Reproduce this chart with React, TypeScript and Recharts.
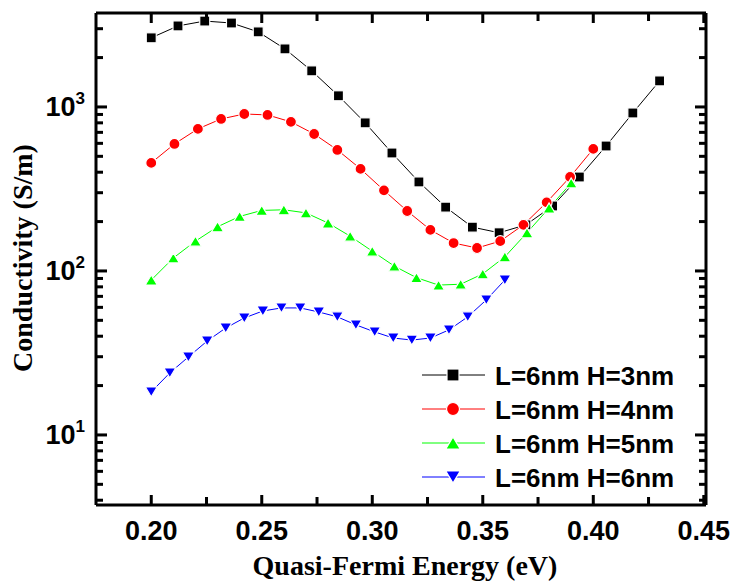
import React from 'react';
import { LineChart, Line, XAxis, YAxis, Customized } from 'recharts';

// Quasi-Fermi energy (eV) and conductivity (S/m)
const energyH3 = [0.2, 0.2121, 0.2242, 0.2363, 0.2484, 0.2605, 0.2726, 0.2847, 0.2968, 0.3089, 0.3211, 0.3332, 0.3453, 0.3574, 0.3695, 0.3816, 0.3937, 0.4058, 0.4179, 0.43];
const sigmaH3 = [2640, 3120, 3340, 3250, 2870, 2260, 1660, 1170, 800, 524, 349, 245, 185, 171, 191, 249, 374, 578, 919, 1442];

const energyH4 = [0.2, 0.2105, 0.2211, 0.2316, 0.2421, 0.2526, 0.2632, 0.2737, 0.2842, 0.2947, 0.3053, 0.3158, 0.3263, 0.3368, 0.3474, 0.3579, 0.3684, 0.3789, 0.3895, 0.4];
const sigmaH4 = [456, 595, 735, 845, 906, 894, 811, 684, 547, 419, 310, 232, 178, 148, 138, 152, 191, 262, 374, 555];

const energyH5 = [0.2, 0.21, 0.22, 0.23, 0.24, 0.25, 0.26, 0.27, 0.28, 0.29, 0.3, 0.31, 0.32, 0.33, 0.34, 0.35, 0.36, 0.37, 0.38, 0.39];
const sigmaH5 = [88, 120, 152, 186, 215, 234, 236, 226, 196, 163, 132, 107, 91, 82, 83, 96, 122, 171, 242, 344];

const energyH6 = [0.2, 0.2084, 0.2168, 0.2253, 0.2337, 0.2421, 0.2505, 0.2589, 0.2674, 0.2758, 0.2842, 0.2926, 0.3011, 0.3095, 0.3179, 0.3263, 0.3347, 0.3432, 0.3516, 0.36];
const sigmaH6 = [18.3, 23.9, 29.9, 37.4, 44.9, 51.7, 57.0, 59.5, 59.5, 56.2, 52.5, 46.9, 42.5, 39.0, 37.9, 39.0, 43.7, 52.5, 66.6, 88.1];

const seriesNames = ['L=6nm H=3nm', 'L=6nm H=4nm', 'L=6nm H=5nm', 'L=6nm H=6nm'];

const xMajorTicks = [0.2, 0.25, 0.3, 0.35, 0.4, 0.45];
const xMinorTicks = [0.225, 0.275, 0.325, 0.375, 0.425];
const yMajorTicks = [10, 100, 1000];
const yMinorTicks = [4, 5, 6, 7, 8, 9, 20, 30, 40, 50, 60, 70, 80, 90, 200, 300, 400, 500, 600, 700, 800, 900, 2000, 3000];

const xTicks = [...xMajorTicks, ...xMinorTicks].sort((a, b) => a - b);
const yTicks = [...yMajorTicks, ...yMinorTicks].sort((a, b) => a - b);

const toRows = (xs: number[], ys: number[]) => xs.map((x, i) => ({ x, y: ys[i] }));

type Shape = 'square' | 'circle' | 'up' | 'down';

const series: { name: string; color: string; shape: Shape; rows: { x: number; y: number }[] }[] = [
  { name: seriesNames[0], color: '#000000', shape: 'square', rows: toRows(energyH3, sigmaH3) },
  { name: seriesNames[1], color: '#ff0000', shape: 'circle', rows: toRows(energyH4, sigmaH4) },
  { name: seriesNames[2], color: '#00ff00', shape: 'up', rows: toRows(energyH5, sigmaH5) },
  { name: seriesNames[3], color: '#0000ff', shape: 'down', rows: toRows(energyH6, sigmaH6) },
];

const SANS = '"Liberation Sans", Arial, Helvetica, sans-serif';
const SERIF = '"Liberation Serif", "Times New Roman", serif';
const TICK = '#000000';

const Marker = ({ shape, cx, cy, color, size, outline = true }: any) => {
  const s = size;
  const stroke = outline ? '#ffffff' : 'none';
  if (shape === 'square') {
    return <rect x={cx - s / 2} y={cy - s / 2} width={s} height={s} fill={color} stroke={stroke} strokeWidth={1.2} />;
  }
  if (shape === 'circle') {
    return <circle cx={cx} cy={cy} r={s / 2 + 0.5} fill={color} stroke={stroke} strokeWidth={1.2} />;
  }
  const w = s * 1.2;
  const h = s;
  const pts =
    shape === 'up'
      ? `${cx},${cy - h / 2} ${cx + w / 2},${cy + h / 2} ${cx - w / 2},${cy + h / 2}`
      : `${cx - w / 2},${cy - h / 2} ${cx + w / 2},${cy - h / 2} ${cx},${cy + h / 2}`;
  return <polygon points={pts} fill={color} stroke={stroke} strokeWidth={1.2} />;
};

const makeDot = (shape: Shape, color: string) => (props: any) => {
  const { cx, cy, index } = props;
  if (cx == null || cy == null) return <g key={`e-${shape}-${index}`} />;
  return (
    <g key={`${shape}-${index}`}>
      <Marker shape={shape} cx={cx} cy={cy} color={color} size={10} />
    </g>
  );
};

const isMajor = (v: number, list: number[]) => list.some((m) => Math.abs(m - v) < 1e-9);

// ticks point inward, like the original plot
const BottomTick = (props: any) => {
  const { x, y, payload } = props;
  const major = isMajor(payload.value, xMajorTicks);
  return (
    <g>
      <rect x={x - 1.5} y={y - (major ? 10 : 8)} width={3} height={major ? 10 : 8} fill={TICK} />
      {major && (
        <text x={x} y={y + 35} textAnchor="middle" fontFamily={SANS} fontWeight="bold" fontSize={27} fill="#000">
          {payload.value.toFixed(2)}
        </text>
      )}
    </g>
  );
};

const TopTick = (props: any) => {
  const { x, y, payload } = props;
  const major = isMajor(payload.value, xMajorTicks);
  return <rect x={x - 1.5} y={y} width={3} height={major ? 10 : 8} fill={TICK} />;
};

const LeftTick = (props: any) => {
  const { x, y, payload } = props;
  const major = isMajor(payload.value, yMajorTicks);
  const exp = Math.round(Math.log10(payload.value));
  return (
    <g>
      <rect x={x} y={y - 1.5} width={major ? 11 : 7} height={3} fill={TICK} />
      {major && (
        <text x={x - 11} y={y + 9.5} textAnchor="end" fontFamily={SANS} fontWeight="bold" fontSize={27} fill="#000">
          <tspan>10</tspan>
          <tspan dy={-12} fontSize={17}>{exp}</tspan>
        </text>
      )}
    </g>
  );
};

const RightTick = (props: any) => {
  const { x, y, payload } = props;
  const major = isMajor(payload.value, yMajorTicks);
  const len = major ? 11 : 7;
  return <rect x={x - len} y={y - 1.5} width={len} height={3} fill={TICK} />;
};

const LegendBox = () => {
  const left = 410;
  const top = 367;
  const rowGap = 34;
  return (
    <g>
      {series.map((s, i) => {
        const y = top + i * rowGap;
        return (
          <g key={s.name}>
            <line x1={left + 4} y1={y} x2={left + 67} y2={y} stroke={s.color} strokeWidth={1} />
            <Marker shape={s.shape} cx={left + 35} cy={y} color={s.color} size={12} />
            <text x={left + 77} y={y + 9.5} fontFamily={SANS} fontWeight="bold" fontSize={26} fill="#000">
              {s.name}
            </text>
          </g>
        );
      })}
    </g>
  );
};

const frameLine = { stroke: '#000', strokeWidth: 3 };

export default function App() {
  return (
    <LineChart width={731} height={574} margin={{ top: 0, right: 0, bottom: 0, left: 0 }}>
      <XAxis
        xAxisId="bottom"
        dataKey="x"
        type="number"
        domain={[0.175, 0.451]}
        allowDataOverflow
        ticks={xTicks}
        interval={0}
        tickSize={0}
        tickMargin={0}
        tickLine={false}
        axisLine={frameLine}
        tick={(p: any) => <BottomTick {...p} />}
        height={77}
        label={{
          content: ({ viewBox }: any) => (
            <text
              x={viewBox.x + viewBox.width / 2 + 4}
              y={viewBox.y + 70}
              textAnchor="middle"
              fontFamily={SERIF}
              fontWeight="bold"
              fontSize={28}
              fill="#000"
            >
              Quasi-Fermi Energy (eV)
            </text>
          ),
        }}
      />
      <XAxis
        xAxisId="top"
        orientation="top"
        dataKey="x"
        type="number"
        domain={[0.175, 0.451]}
        allowDataOverflow
        ticks={xTicks}
        interval={0}
        tickSize={0}
        tickMargin={0}
        tickLine={false}
        axisLine={frameLine}
        tick={(p: any) => <TopTick {...p} />}
        height={5}
      />
      <YAxis
        yAxisId="left"
        type="number"
        scale="log"
        domain={[3.74, 3740]}
        allowDataOverflow
        ticks={yTicks}
        interval={0}
        tickSize={0}
        tickMargin={0}
        tickLine={false}
        axisLine={frameLine}
        tick={(p: any) => <LeftTick {...p} />}
        width={88}
        label={{
          content: () => (
            <text
              x={14}
              y={250}
              transform={`rotate(-90 14 250)`}
              textAnchor="middle"
              dominantBaseline="central"
              fontFamily={SERIF}
              fontWeight="bold"
              fontSize={28}
              fill="#000"
            >
              Conductivity (S/m)
            </text>
          ),
        }}
      />
      <YAxis
        yAxisId="right"
        orientation="right"
        type="number"
        scale="log"
        domain={[3.74, 3740]}
        allowDataOverflow
        ticks={yTicks}
        interval={0}
        tickSize={0}
        tickMargin={0}
        tickLine={false}
        axisLine={frameLine}
        tick={(p: any) => <RightTick {...p} />}
        width={33}
      />
      {series.map((s) => (
        <Line
          key={s.name}
          xAxisId="bottom"
          yAxisId="left"
          data={s.rows}
          dataKey="y"
          name={s.name}
          type="linear"
          stroke={s.color}
          strokeWidth={1}
          dot={makeDot(s.shape, s.color)}
          activeDot={false}
          isAnimationActive={false}
        />
      ))}
      <Customized component={LegendBox} />
    </LineChart>
  );
}
